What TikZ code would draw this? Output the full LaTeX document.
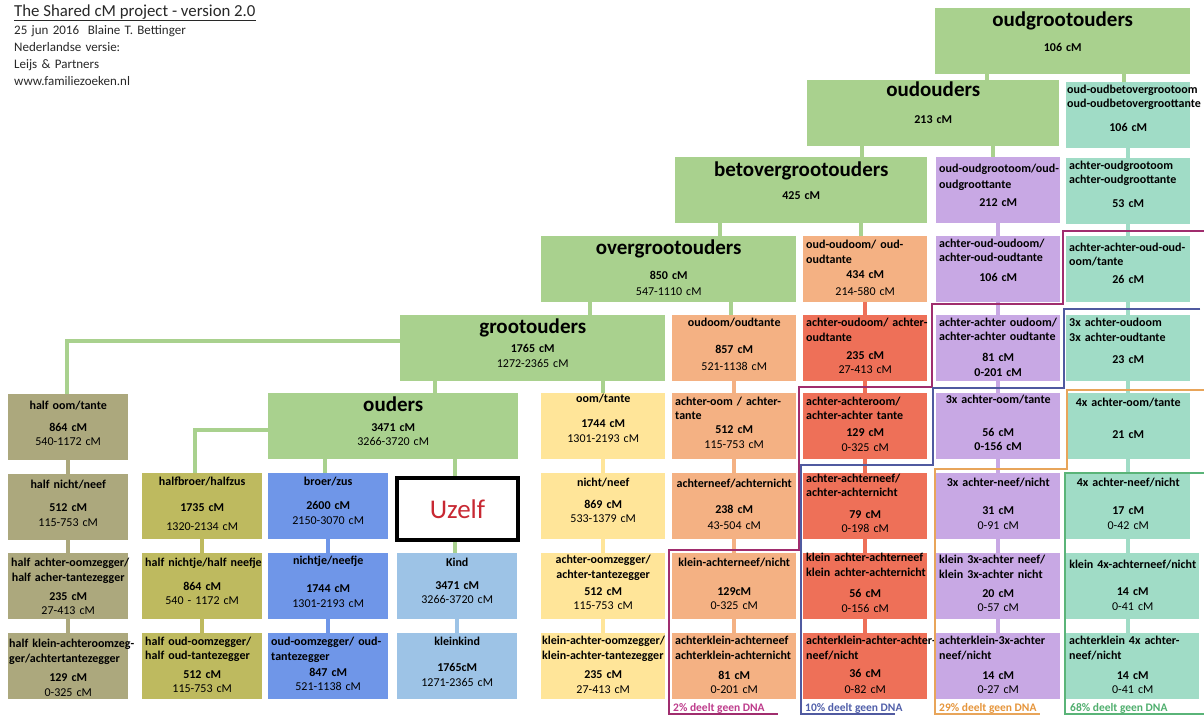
\documentclass[tikz,border=0pt]{standalone}
\usepackage{fontspec}
\setmainfont{Carlito}
\usetikzlibrary{positioning, backgrounds}

\definecolor{cGroen}{RGB}{169,209,142}
\definecolor{cTurk}{RGB}{160,220,198}
\definecolor{cPaars}{RGB}{200,168,228}
\definecolor{cZalm}{RGB}{244,177,131}
\definecolor{cRood}{RGB}{238,112,88}
\definecolor{cGeel}{RGB}{255,229,153}
\definecolor{cLblauw}{RGB}{157,195,230}
\definecolor{cBlauw}{RGB}{111,150,232}
\definecolor{cOlijf}{RGB}{190,186,95}
\definecolor{cKaki}{RGB}{172,168,125}
\definecolor{cKop}{RGB}{40,40,40}
\definecolor{cUzelf}{RGB}{200,40,50}
\definecolor{cLijnPaars}{RGB}{160,45,110}
\definecolor{cLijnBlauw}{RGB}{80,90,160}
\definecolor{cLijnOranje}{RGB}{232,165,90}
\definecolor{cLijnGroen}{RGB}{90,180,120}
\definecolor{cTekstPaars}{RGB}{190,60,140}
\definecolor{cTekstBlauw}{RGB}{80,95,170}
\definecolor{cTekstOranje}{RGB}{230,150,60}
\definecolor{cTekstGroen}{RGB}{80,175,110}

\newcommand{\klein}{\fontsize{12}{14}\selectfont\hyphenpenalty=10000 \exhyphenpenalty=10000 }
\newcommand{\titel}{\fontsize{21}{24}\selectfont}
\newcommand{\links}[1]{\mbox{#1}\nobreak\hskip 0pt plus 1fill\null}
\newcommand{\bereik}[1]{{\mdseries #1}}

\tikzset{
  cel/.style={rectangle, anchor=north west, inner xsep=3pt, inner ysep=0pt,
    text width=118pt, align=center, font=\klein\bfseries,
    text height=#1, text depth={66pt-#1}},
  smal/.style={text width=114pt},
  groen/.style={cel=#1, fill=cGroen},
  turk/.style={cel=#1, fill=cTurk},
  paars/.style={cel=#1, fill=cPaars},
  zalm/.style={cel=#1, fill=cZalm},
  rood/.style={cel=#1, fill=cRood},
  geel/.style={cel=#1, fill=cGeel},
  lblauw/.style={cel=#1, fill=cLblauw, smal},
  blauw/.style={cel=#1, fill=cBlauw, smal},
  olijf/.style={cel=#1, fill=cOlijf, smal},
  kaki/.style={cel=#1, fill=cKaki, smal},
  uzelf/.style={rectangle, anchor=north west, draw=black, line width=4pt, fill=white,
    minimum width=121pt, minimum height=62pt, inner sep=0pt,
    font=\fontsize{27}{30}\selectfont, text=cUzelf},
  tak/.style={draw=#1, line width=4.5pt},
  grens/.style={draw=#1, line width=1.4pt},
  dna/.style={anchor=base west, inner sep=0pt, font=\fontsize{11.5}{12}\selectfont\bfseries}
}

\begin{document}
\begin{tikzpicture}[x=1pt, y=-1pt]
    \useasboundingbox (0,0) rectangle (1204,716);

    % Kop
    \node[anchor=base west, inner sep=0pt, font=\fontsize{16.8}{20}\selectfont, text=cKop] (kop) at (14,16)
        {\underline{The Shared cM project - version 2.0}};
    \node[anchor=north west, inner sep=0pt, text width=220pt, align=left,
        font=\fontsize{13}{17}\selectfont, text=cKop] (info) at (14,25)
        {25 jun 2016\ \ Blaine T. Bettinger\\Nederlandse versie:\\Leijs \& Partners\\www.familiezoeken.nl};

    % Directe lijn (groen)
    \node[groen=18pt, text width=249pt] (ogu) at (935,8) {{\titel oudgrootouders}\\[11.5pt]106 cM};
    \node[groen=16pt, text width=246pt] (oo) at (807,80) {{\titel oudouders}\\[13.5pt]213 cM};
    \node[groen=19pt, text width=246pt] (bgo) at (675,157) {{\titel betovergrootouders}\\[9.5pt]425 cM};
    \node[groen=18pt, text width=249pt] (ogo) at (541,236) {{\titel overgrootouders}\\[11.5pt]850 cM\\[2pt]\bereik{547-1110 cM}};
    \node[groen=18pt, text width=259pt] (go) at (400,315) {{\titel grootouders}\\[5.5pt]1765 cM\\[1pt]\bereik{1272-2365 cM}};
    \node[groen=18pt, text width=244pt] (ou) at (268,393) {{\titel ouders}\\[6.5pt]3471 cM\\\bereik{3266-3720 cM}};

    % Kolom turkoois
    \node[turk=11.5pt, inner xsep=1pt, text width=122pt] (t1) at (1066,82) {\links{oud-oudbetovergrootoom}\\\links{oud-oudbetovergroottante}\\[10pt]106 cM};
    \node[turk=11.5pt] (t2) at (1066,158) {\links{achter-oudgrootoom}\\\links{achter-oudgroottante}\\[10pt]53 cM};
    \node[turk=15.5pt] (t3) at (1066,236) {\links{achter-achter-oud-oud-}\\\links{oom/tante}\\[4pt]26 cM};
    \node[turk=11.5pt] (t4) at (1066,315) {\links{3x achter-oudoom}\\[1pt]\links{3x achter-oudtante}\\[8pt]23 cM};
    \node[turk=13.5pt] (t5) at (1066,393) {\mbox{4x achter-oom/tante}\\[18pt]21 cM};
    \node[turk=13.5pt] (t6) at (1066,473) {\mbox{4x achter-neef/nicht}\\[14pt]17 cM\\[1pt]\bereik{0-42 cM}};
    \node[turk=15.5pt, text width=127pt] (t7) at (1066,553) {\mbox{klein 4x-achterneef/nicht}\\[13pt]14 cM\\[1pt]\bereik{0-41 cM}};
    \node[turk=11.5pt, text width=127pt] (t8) at (1066,633) {\links{achterklein 4x achter-}\\[1pt]\links{neef/nicht}\\[6pt]14 cM\\\bereik{0-41 cM}};

    % Kolom paars
    \node[paars=15.5pt] (p1) at (936,157) {\links{oud-oudgrootoom/oud-}\\[2pt]\links{oudgroottante}\\[4pt]212 cM};
    \node[paars=11.5pt] (p2) at (936,236) {\links{achter-oud-oudoom/}\\\links{achter-oud-oudtante}\\[6pt]106 cM};
    \node[paars=11.5pt] (p3) at (936,315) {\links{achter-achter oudoom/}\\\links{achter-achter oudtante}\\[7pt]81 cM\\[1pt]0-201 cM};
    \node[paars=10.5pt] (p4) at (936,393) {\mbox{3x achter-oom/tante}\\[19pt]56 cM\\0-156 cM};
    \node[paars=13.5pt] (p5) at (936,473) {\mbox{3x achter-neef/nicht}\\[14pt]31 cM\\[1pt]\bereik{0-91 cM}};
    \node[paars=10.5pt] (p6) at (936,553) {\links{klein 3x-achter neef/}\\[1pt]\links{klein 3x-achter nicht}\\[5pt]20 cM\\\bereik{0-57 cM}};
    \node[paars=11.5pt] (p7) at (936,633) {\links{achterklein-3x-achter}\\[1pt]\links{neef/nicht}\\[6pt]14 cM\\\bereik{0-27 cM}};

    % Kolom zalm en rood
    \node[zalm=12.5pt] (z0) at (803,236) {\links{oud-oudoom/ oud-}\\[1pt]\links{oudtante}\\[1pt]434 cM\\[3pt]\bereik{214-580 cM}};
    \node[rood=11.5pt] (r1) at (803,315) {\links{achter-oudoom/ achter-}\\[1pt]\links{oudtante}\\[4pt]235 cM\\\bereik{27-413 cM}};
    \node[rood=12.5pt] (r2) at (803,393) {\links{achter-achteroom/}\\\links{achter-achter tante}\\[3pt]129 cM\\[1pt]\bereik{0-325 cM}};
    \node[rood=9.5pt] (r3) at (803,473) {\links{achter-achterneef/}\\\links{achter-achternicht}\\[8pt]79 cM\\\bereik{0-198 cM}};
    \node[rood=8.5pt] (r4) at (803,553) {\links{klein achter-achterneef}\\[1pt]\links{klein achter-achternicht}\\[7pt]56 cM\\[1pt]\bereik{0-156 cM}};
    \node[rood=11.5pt] (r5) at (803,633) {\links{achterklein-achter-achter-}\\[1pt]\links{neef/nicht}\\[4pt]36 cM\\[2pt]\bereik{0-82 cM}};

    \node[zalm=11.5pt] (z1) at (672,315) {\mbox{oudoom/oudtante}\\[13pt]857 cM\\[3pt]\bereik{521-1138 cM}};
    \node[zalm=12.5pt] (z2) at (672,393) {\links{achter-oom / achter-}\\\links{tante}\\512 cM\\[1pt]\bereik{115-753 cM}};
    \node[zalm=14.5pt] (z3) at (672,473) {\mbox{achterneef/achternicht}\\[12pt]238 cM\\[2pt]\bereik{43-504 cM}};
    \node[zalm=13.5pt] (z4) at (672,553) {\mbox{klein-achterneef/nicht}\\[15pt]129cM\\\bereik{0-325 cM}};
    \node[zalm=11.5pt] (z5) at (672,633) {\links{achterklein-achterneef}\\[1pt]\links{achterklein-achternicht}\\[6pt]81 cM\\\bereik{0-201 cM}};

    % Kolom geel
    \node[geel=9.5pt] (y1) at (541,393) {oom/tante\\[11pt]1744 cM\\[1pt]\bereik{1301-2193 cM}};
    \node[geel=13.5pt] (y2) at (541,473) {nicht/neef\\[8pt]869 cM\\\bereik{533-1379 cM}};
    \node[geel=10.5pt] (y3) at (541,553) {\mbox{achter-oomzegger/}\\[1pt]\mbox{achter-tantezegger}\\[3pt]512 cM\\\bereik{115-753 cM}};
    \node[geel=11.5pt, inner xsep=1pt, text width=122pt] (y4) at (541,633) {\links{klein-achter-oomzegger/}\\[1pt]\links{klein-achter-tantezegger}\\[5pt]235 cM\\[1pt]\bereik{27-413 cM}};

    % Uzelf en nakomelingen
    \node[uzelf] (uz) at (395,476) {Uzelf};
    \node[lblauw=13.5pt] (kind) at (397,553) {Kind\\[9pt]3471 cM\\\bereik{3266-3720 cM}};
    \node[lblauw=12.5pt] (kk) at (397,633) {kleinkind\\[12pt]1765cM\\[1pt]\bereik{1271-2365 cM}};

    % Kolom blauw
    \node[blauw=12.5pt] (bz) at (268,473) {broer/zus\\[10pt]2600 cM\\[1pt]\bereik{2150-3070 cM}};
    \node[blauw=11.5pt] (nn) at (268,553) {nichtje/neefje\\[14pt]1744 cM\\[1pt]\bereik{1301-2193 cM}};
    \node[blauw=12.5pt] (on) at (268,633) {\links{oud-oomzegger/ oud-}\\[1pt]\links{tantezegger}\\[2pt]847 cM\\\bereik{521-1138 cM}};

    % Kolom olijf
    \node[olijf=12.5pt] (hb) at (142,473) {halfbroer/halfzus\\[12pt]1735 cM\\[5pt]\bereik{1320-2134 cM}};
    \node[olijf=13.5pt] (hn) at (142,553) {\mbox{half nichtje/half neefje}\\[10pt]864 cM\\\bereik{540 - 1172 cM}};
    \node[olijf=12.5pt] (ho) at (142,633) {\links{half oud-oomzegger/}\\\links{half oud-tantezegger}\\[5pt]512 cM\\\bereik{115-753 cM}};

    % Kolom kaki
    \node[kaki=15.5pt] (k1) at (8,394) {\mbox{half oom/tante}\\[8pt]864 cM\\\bereik{540-1172 cM}};
    \node[kaki=14.5pt] (k2) at (8,474) {\mbox{half nicht/neef}\\[9pt]512 cM\\[1pt]\bereik{115-753 cM}};
    \node[kaki=13.5pt] (k3) at (8,553) {\mbox{half achter-oomzegger/}\\[1pt]\mbox{half acher-tantezegger}\\[5pt]235 cM\\\bereik{27-413 cM}};
    \node[kaki=14.5pt, inner xsep=1pt, text width=118pt] (k4) at (8,633) {\links{half klein-achteroomzeg-}\\[1pt]\links{ger/achtertantezegger}\\[5pt]129 cM\\[1pt]\bereik{0-325 cM}};

    % Verbindingen
    \begin{scope}[on background layer]
        \fill[white] (0,0) rectangle (1204,716);
        \draw[tak=cGroen] (ogu.south -| 987,0) -- (oo.north -| 987,0);
        \draw[tak=cGroen] (ogu.south -| 1124,0) -- (t1.north -| 1124,0);
        \draw[tak=cGroen] (oo.south -| 862,0) -- (bgo.north -| 862,0);
        \draw[tak=cGroen] (oo.south -| 993,0) -- (p1.north -| 993,0);
        \draw[tak=cGroen] (bgo.south -| 720,0) -- (ogo.north -| 720,0);
        \draw[tak=cGroen] (bgo.south -| 861,0) -- (z0.north -| 861,0);
        \draw[tak=cGroen] (ogo.south -| 590,0) -- (go.north -| 590,0);
        \draw[tak=cGroen] (ogo.south -| 731,0) -- (z1.north -| 731,0);
        \draw[tak=cGroen] ([yshift=7pt]go.west) -| (k1.north -| 67,0);
        \draw[tak=cGroen] (go.south -| 435,0) -- (ou.north -| 435,0);
        \draw[tak=cGroen] (go.south -| 603,0) -- (y1.north -| 603,0);
        \draw[tak=cGroen] ([yshift=-4pt]ou.west) -| (hb.north -| 195,0);
        \draw[tak=cGroen] (ou.south -| 325,0) -- (bz.north -| 325,0);
        \draw[tak=cGroen] (ou.south -| 455,0) -- (uz.north -| 455,0);
        \draw[tak=cGroen] (uz.south -| 455,0) -- (kind.north -| 455,0);

        \foreach \a/\b in {t1/t2,t2/t3,t3/t4,t4/t5,t5/t6,t6/t7,t7/t8}
            \draw[tak=cTurk] (\a.south -| t6.south) -- (\b.north -| t6.south);
        \foreach \a/\b in {p1/p2,p2/p3,p3/p4,p4/p5,p5/p6,p6/p7}
            \draw[tak=cPaars] (\a) -- (\b);
        \foreach \a/\b in {z0/r1,r1/r2,r2/r3,r3/r4,r4/r5}
            \draw[tak=cRood] (\a) -- (\b);
        \foreach \a/\b in {z1/z2,z2/z3,z3/z4,z4/z5}
            \draw[tak=cZalm] (\a) -- (\b);
        \foreach \a/\b in {y1/y2,y2/y3,y3/y4}
            \draw[tak=cGeel] (\a.south -| y1.south) -- (\b.north -| y1.south);
        \draw[tak=cLblauw] (kind) -- (kk);
        \foreach \a/\b in {bz/nn,nn/on}
            \draw[tak=cBlauw] (\a) -- (\b);
        \foreach \a/\b in {hb/hn,hn/ho}
            \draw[tak=cOlijf] (\a) -- (\b);
        \foreach \a/\b in {k1/k2,k2/k3,k3/k4}
            \draw[tak=cKaki] (\a.south -| k1.south) -- (\b.north -| k1.south);
    \end{scope}

    % Grenzen: deel zonder gedeeld DNA
    \draw[grens=cLijnPaars] (1204,231) -- (1063,231) -- (1063,304) -- (932,304) -- (932,387)
        -- (799,387) -- (799,550) -- (669,550) -- (669,714) -- (778,714);
    \draw[grens=cLijnBlauw] (1200,309) -- (1064,309) -- (1064,388) -- (933,388) -- (933,465)
        -- (801,465) -- (801,714) -- (895,714);
    \draw[grens=cLijnOranje] (1204,390) -- (1067,390) -- (1067,469) -- (935,469) -- (935,714) -- (1040,714);
    \draw[grens=cLijnGroen] (1204,473) -- (1065,473) -- (1065,714) -- (1204,714);

    \node[dna, text=cTekstPaars] (dna2) at (673,711) {2\% deelt geen DNA};
    \node[dna, text=cTekstBlauw] (dna10) at (805,711) {10\% deelt geen DNA};
    \node[dna, text=cTekstOranje] (dna29) at (939,711) {29\% deelt geen DNA};
    \node[dna, text=cTekstGroen] (dna68) at (1070,711) {68\% deelt geen DNA};
\end{tikzpicture}
\end{document}
